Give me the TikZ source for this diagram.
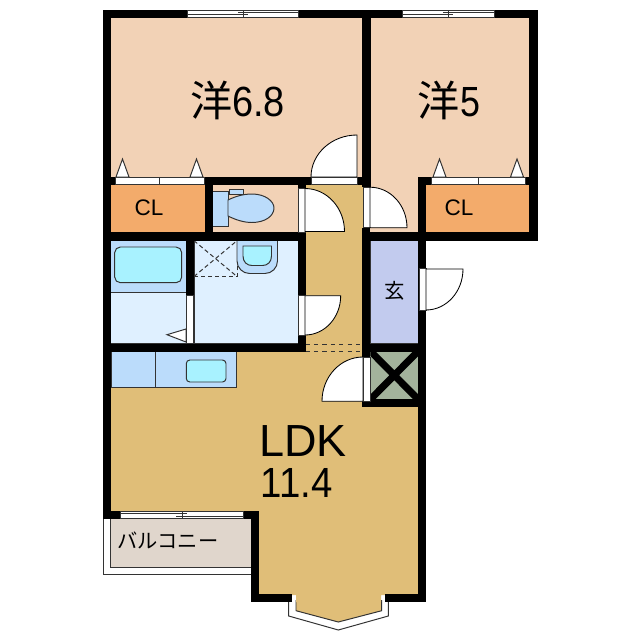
\documentclass[tikz,border=0pt]{standalone}
\usepackage{fontspec}
\setmainfont{Liberation Sans}
\newfontfamily\jpfont{Noto Sans CJK JP}
\definecolor{roomc}{HTML}{F2D2B6}
\definecolor{closetc}{HTML}{F3AB6B}
\definecolor{ldkc}{HTML}{E0BE78}
\definecolor{wetc}{HTML}{DFF0FF}
\definecolor{fixc}{HTML}{BBDCFB}
\definecolor{basinc}{HTML}{A8F2FF}
\definecolor{entryc}{HTML}{C2CBEE}
\definecolor{shaftc}{HTML}{A3B39C}
\definecolor{balconyc}{HTML}{E0D6CC}
\definecolor{linec}{HTML}{333333}
\tikzset{
    thinline/.style={draw=linec, line width=0.7pt},
    strip/.style={fill=white, thinline, line width=0.5pt},
    doorleaf/.style={fill=white, draw=black, line width=0.6pt},
    bigtext/.style={font=\fontsize{30}{34}\selectfont, inner sep=0pt},
    smalltext/.style={font=\fontsize{16}{18}\selectfont, inner sep=0pt},
}
% hinge x, hinge y, leaf reach x, leaf reach y
\newcommand{\swing}[4]{
    \draw[doorleaf] (#1,#2) -- ({#1+#3},#2)
        .. controls ({#1+#3},{#2+0.552*#4}) and ({#1+0.552*#3},{#2+#4}) .. (#1,{#2+#4}) -- cycle;
}
\begin{document}
\begin{tikzpicture}[x=0.025cm, y=-0.025cm]
    \useasboundingbox[fill=white] (0,0) rectangle (640,640);
    % balcony
    \draw[thinline, fill=white] (103,518.7) rectangle (251,574);
    \draw[thinline, fill=balconyc] (110.7,518.7) rectangle (251,567);
    % bay window
    \draw[thinline, fill=white] (288.7,600) -- (288.7,616) -- (338.3,630) -- (388.3,616) -- (388.3,600);
    \draw[thinline, fill=ldkc] (296,600) -- (296,610.7) -- (338.3,622) -- (381.7,610.7) -- (381.7,600);
    % room fills
    \fill[roomc] (110,17) rectangle (362.5,177);
    \fill[roomc] (370,17) rectangle (530,232);
    \fill[roomc] (212,185) rectangle (298,232);
    \fill[closetc] (110,185) rectangle (205,232);
    \fill[closetc] (426,185) rectangle (530,232);
    \fill[ldkc] (305,185) rectangle (363,352);
    \fill[ldkc] (110,351) -- (363,351) -- (363,407) -- (419,407) -- (419,595) -- (381,595) -- (381,602)
        -- (296,602) -- (296,595) -- (259,595) -- (259,511) -- (110,511) -- cycle;
    \draw[thinline, fill=wetc] (110.5,240.7) rectangle (186,343.5);
    \draw[thinline, fill=wetc] (194,240.7) rectangle (298,343.5);
    \draw[thinline, fill=entryc] (370.3,240.5) rectangle (418.3,343.5);
    % kitchen
    \draw[thinline, fill=fixc] (111.5,351.7) rectangle (155,387);
    \draw[thinline, fill=fixc] (155,351.7) rectangle (236.5,387);
    \draw[thinline, fill=basinc, rounded corners=2.5pt] (186.3,360) rectangle (226,382);
    % bath
    \draw[thinline, fill=fixc] (110.5,240.7) rectangle (186,292.5);
    \draw[thinline, fill=basinc, rounded corners=4pt] (114.7,247) rectangle (181.7,282.7);
    \draw[thinline, fill=white] (186,329) -- (167,334.7) -- (186,342) -- cycle;
    % laundry place
    \draw[thinline, densely dashed] (194,276.5) -- (237,276.5) -- (237,240.7);
    \draw[thinline, densely dashed] (194,240.7) -- (237,276.5) (194,276.5) -- (237,240.7);
    % wash basin
    \draw[thinline, fill=fixc, rounded corners=9pt] (237,240.7) -- (237,273.5) -- (277.5,273.5) -- (277.5,240.7);
    \draw[thinline, fill=basinc] (243,246) -- (243,256) .. controls (243,262) and (247,265.5) .. (252,265.5)
        -- (262.5,265.5) .. controls (267.5,265.5) and (271.5,262) .. (271.5,256) -- (271.5,246) -- cycle;
    % toilet
    \draw[thinline, fill=fixc] (212.7,191) rectangle (228.3,226);
    \draw[thinline, fill=fixc] (229,189) rectangle (243,194);
    \draw[thinline, fill=fixc] (228,200) .. controls (236,196) and (244,194) .. (252,194)
        .. controls (265,194) and (274,201) .. (274,208)
        .. controls (274,216) and (265,222.5) .. (252,222.5)
        .. controls (244,222.5) and (236,220) .. (228,216) -- cycle;
    % shaft
    \fill[shaftc] (370.3,351) rectangle (418.3,399.5);
    \begin{scope}
        \clip (370.3,351) rectangle (418.3,399.5);
        \draw[line width=5pt] (370.3,351) -- (418.3,399.5) (370.3,399.5) -- (418.3,351);
    \end{scope}
    % walls
    \foreach \xa/\ya/\xb/\yb in {103/10/537.5/17.5, 103/10/110.5/518.7, 529.3/10/537.5/240,
        362.3/10/370.5/187, 103/177/370.5/185, 418.3/177/537.5/185, 418.3/177/426.3/240,
        103/232/305.5/240.7, 362.3/232/537.5/240.5, 204.7/177/212.7/240, 297.7/177/305.5/351.7,
        186/240/194/351, 103/343.5/305.5/351.7, 362.3/227.7/370.3/407.3, 362.3/343.5/426.3/351.5,
        362.3/399.3/426.3/407.3, 418.3/232/426.3/602, 251/510.7/259.3/602, 243.3/510.7/259.3/518.7,
        251/594/292.3/602.3, 384.7/594/426.3/602.3, 103/510.7/120/518.7}
        \fill[black] (\xa,\ya) rectangle (\xb,\yb);
    % door and closet strips
    \foreach \xa/\ya/\xb/\yb in {115/177/204/184, 431.3/177/525/184, 311/177/357/184, 298/188/305/232,
        363/187/370/227.7, 186.7/295/193.7/343, 298/295.7/305/335, 419/268.7/426/310, 363/357/370/401.3}
        \draw[strip] (\xa,\ya) rectangle (\xb,\yb);
    \draw[thinline] (159,177) -- (159,184) (478,177) -- (478,184);
    % closet door marks
    \foreach \xa in {116, 190, 433, 510.5}
        \draw[thinline, fill=white] (\xa,177) -- ({\xa+6.5},159) -- ({\xa+13},177) -- cycle;
    % swinging doors
    \swing{357}{177}{-46}{-42}
    \swing{305}{231.5}{39.5}{-43}
    \swing{305}{295.7}{35.7}{39.3}
    \swing{370}{227.7}{37}{-40.5}
    \swing{426}{269}{37}{41}
    \swing{363}{401.3}{-41}{-44.3}
    % windows
    \foreach \xa/\xb/\xt in {187/298.7/243, 402/494.7/448}{
        \draw[strip] (\xa,10) rectangle (\xb,17);
        \draw[thinline, line width=0.5pt] (\xa,14.7) -- ({\xt+5},14.7) ({\xt-5},12) -- (\xb,12) (\xt,10) -- (\xt,17);
    }
    \draw[strip] (120,511) rectangle (243.3,518);
    \draw[thinline, line width=0.5pt] (120,513.5) -- (187,513.5) (176,516) -- (243.3,516) (182,511) -- (182,518);
    % hall threshold
    \draw[thinline, dashed, line width=0.6pt] (305.5,344) -- (362.3,344) (305.5,351.5) -- (362.3,351.5);
    % labels
    \node[bigtext] (room1) at (237.5,100) {{\jpfont 洋}\scalebox{0.9}[1]{6.8}};
    \node[bigtext] (room2) at (449,100) {{\jpfont 洋}\scalebox{0.85}[1]{5}};
    \node[smalltext] (closet1) at (149,208) {CL};
    \node[smalltext] (closet2) at (459,208) {CL};
    \node[smalltext, font=\fontsize{14.5}{16}\selectfont\jpfont] (entry) at (394.5,291) {玄};
    \node[bigtext, font=\fontsize{32}{34}\selectfont] (ldk) at (303,441) {LDK};
    \node[bigtext] (ldkarea) at (296.5,483) {\scalebox{0.91}[1]{11.4}};
    \node[smalltext, font=\fontsize{14.4}{16}\selectfont\jpfont] (balcony) at (168,540) {バルコニー};
\end{tikzpicture}
\end{document}
